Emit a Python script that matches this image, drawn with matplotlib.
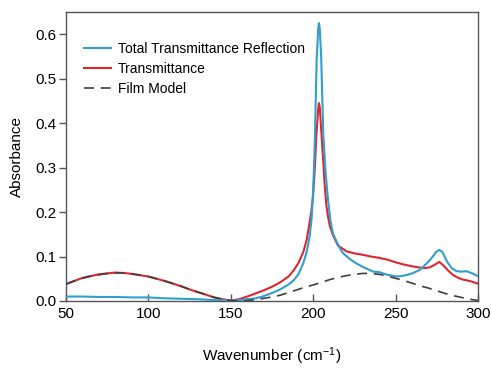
import matplotlib
matplotlib.use("Agg")
import matplotlib.pyplot as plt

plt.rcParams['font.family'] = ['Liberation Sans', 'DejaVu Sans']
plt.rcParams['mathtext.default'] = 'regular'

# Film model (dashed)
film_x = [50, 55, 60, 65, 70, 75, 80, 85, 90, 95, 100, 105, 110, 115, 120, 125, 130, 135, 140, 145,
          150, 155, 160, 165, 170, 175, 180, 185, 190, 195, 200, 205, 210, 215, 220, 225, 230, 235,
          240, 245, 250, 255, 260, 265, 270, 275, 280, 285, 290, 295, 300]
film_y = [0.038, 0.045, 0.051, 0.056, 0.059, 0.062, 0.063, 0.063, 0.061, 0.058, 0.055, 0.050, 0.045,
          0.039, 0.033, 0.026, 0.020, 0.014, 0.008, 0.004, 0.001, 0.000, 0.001, 0.003, 0.006, 0.009,
          0.013, 0.019, 0.025, 0.031, 0.036, 0.042, 0.048, 0.053, 0.057, 0.060, 0.062, 0.062, 0.060,
          0.056, 0.051, 0.046, 0.040, 0.034, 0.029, 0.023, 0.017, 0.012, 0.008, 0.004, 0.001]

# Transmittance (red)
trans_x = [50, 55, 60, 65, 70, 75, 80, 85, 90, 95, 100, 105, 110, 115, 120, 125, 130, 135, 140, 145,
           150, 155, 160, 165, 170, 175, 180, 185, 188, 191, 194, 196, 198, 199, 200, 201, 202, 203,
           203.5, 204, 205, 206, 207, 208, 209, 210, 212, 215, 220, 225, 230, 235, 240, 245, 250, 255,
           260, 265, 268, 271, 274, 276.5, 279, 282, 285, 288, 291, 295, 300]
trans_y = [0.038, 0.045, 0.052, 0.056, 0.060, 0.062, 0.064, 0.063, 0.061, 0.058, 0.055, 0.050, 0.045,
           0.039, 0.033, 0.026, 0.020, 0.014, 0.008, 0.004, 0.001, 0.004, 0.010, 0.017, 0.024, 0.032,
           0.042, 0.055, 0.068, 0.085, 0.110, 0.137, 0.180, 0.205, 0.240, 0.300, 0.377, 0.430,
           0.445, 0.435, 0.377, 0.320, 0.260, 0.215, 0.190, 0.170, 0.148, 0.125, 0.112, 0.107, 0.104,
           0.100, 0.097, 0.093, 0.087, 0.082, 0.078, 0.075, 0.074, 0.076, 0.082, 0.088, 0.080, 0.068,
           0.058, 0.052, 0.048, 0.045, 0.039]

# Total Transmittance Reflection (blue)
ttr_x = [50, 60, 70, 80, 90, 100, 110, 120, 130, 140, 150, 155, 160, 165, 170, 175, 180, 185, 188,
         191, 194, 196, 197, 198, 199, 199.7, 200.5, 201.1, 202.1, 203, 203.5, 204, 204.9, 206.1,
         207.5, 209, 210.5, 212, 214, 216, 218, 222, 226, 231, 236.5, 240, 245, 250.6, 255, 260,
         264.8, 269, 272, 274.5, 276.6, 278.5, 281, 284, 287, 290, 293, 296, 300]
ttr_y = [0.010, 0.010, 0.009, 0.009, 0.008, 0.008, 0.006, 0.005, 0.004, 0.002, 0.001, 0.002, 0.004,
         0.006, 0.011, 0.018, 0.026, 0.037, 0.046, 0.060, 0.085, 0.110, 0.128, 0.150, 0.185, 0.227,
         0.300, 0.377, 0.542, 0.610, 0.625, 0.612, 0.542, 0.377, 0.290, 0.227, 0.180, 0.152, 0.135,
         0.120, 0.108, 0.095, 0.085, 0.075, 0.066, 0.065, 0.059, 0.055, 0.057, 0.062, 0.070, 0.085,
         0.097, 0.110, 0.115, 0.110, 0.090, 0.074, 0.067, 0.066, 0.067, 0.063, 0.056]

fig = plt.figure(figsize=(4.91, 3.71), dpi=100)
ax = fig.add_axes([0.1344, 0.1887, 0.9735 - 0.1344, 0.9677 - 0.1887])

ax.plot(ttr_x, ttr_y, color='#2f9fd0', lw=1.5, label='Total Transmittance Reflection', zorder=3)
ax.plot(trans_x, trans_y, color='#e0262e', lw=1.5, label='Transmittance', zorder=2)
ax.plot(film_x, film_y, color='#404040', lw=1.2, ls=(0, (6, 4)), label='Film Model', zorder=4)

ax.set_xlim(50, 300)
ax.set_ylim(0, 0.65)
ax.set_xticks([50, 100, 150, 200, 250, 300])
ax.set_yticks([0.0, 0.1, 0.2, 0.3, 0.4, 0.5, 0.6])
ax.set_yticklabels(['0.0', '0.1', '0.2', '0.3', '0.4', '0.5', '0.6'])

for s in ax.spines.values():
    s.set_color('#555555')
    s.set_linewidth(1.0)

ax.tick_params(axis='x', direction='in', length=5, width=1, color='#555555', labelsize=11, pad=4)
ax.tick_params(axis='y', direction='out', length=5, width=1, color='#555555', labelsize=11, pad=2)

ax.set_xlabel('Wavenumber (cm$^{-1}$)', fontsize=11, labelpad=18)
ax.set_ylabel('Absorbance', fontsize=11, labelpad=8)

leg = ax.legend(loc='upper left', bbox_to_anchor=(0.03, 0.915), frameon=False, fontsize=10,
                handlelength=1.95, handletextpad=0.5, labelspacing=0.42, borderaxespad=0.0)

fig.savefig('out.png', dpi=100)
